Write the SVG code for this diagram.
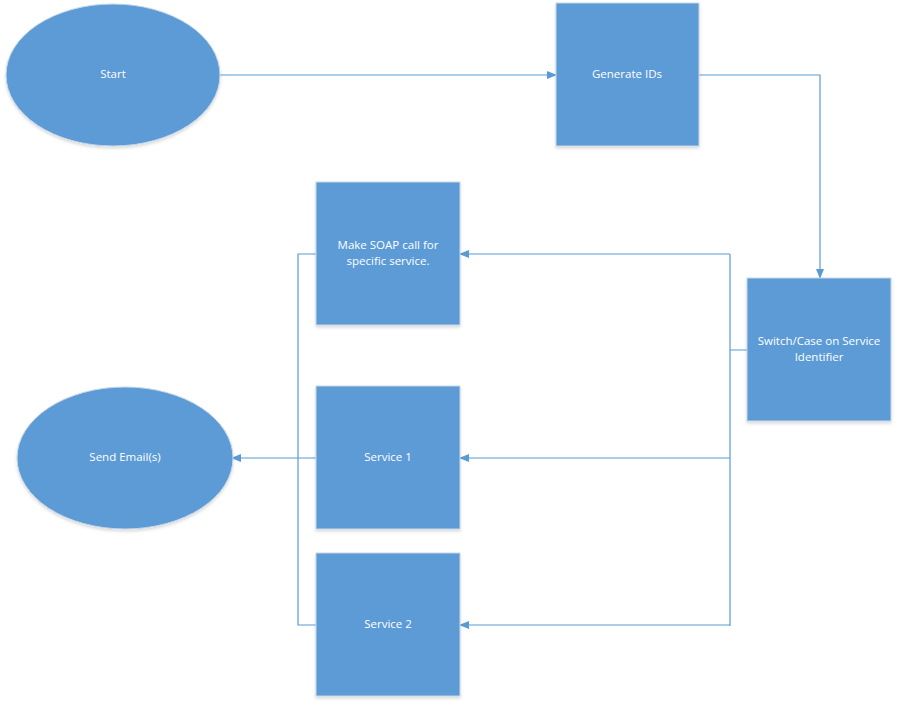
<svg xmlns="http://www.w3.org/2000/svg" width="897" height="705" viewBox="0 0 897 705">
<style>
.n{fill:#5B9BD5;stroke:#C8D7E8;stroke-width:1;filter:url(#sh)}
.t{fill:#fff;font-family:"Open Sans","Liberation Sans",sans-serif;font-size:11.5px;text-anchor:middle;dominant-baseline:middle}
.c{fill:none;stroke:#5B9BD5;stroke-width:1.2}
.a{marker-end:url(#ar)}
</style>
<defs>
<marker id="ar" markerWidth="10" markerHeight="8" refX="9" refY="4" orient="auto" markerUnits="userSpaceOnUse">
<path d="M0,0 L10,4 L0,8 Z" fill="#5B9BD5"/>
</marker>
<filter id="sh" x="-10%" y="-10%" width="120%" height="125%">
<feDropShadow dx="0" dy="2" stdDeviation="1.5" flood-color="#000" flood-opacity="0.15"/>
</filter>
</defs>
<rect width="897" height="705" fill="#fff"/>
<g id="connectors">
<path class="c a" d="M220,75 H556"/>
<path class="c a" d="M699,75 H820 V278"/>
<path class="c" d="M747,350 H730 M730,254 V626"/>
<path class="c a" d="M730,254 H460"/>
<path class="c a" d="M730,458 H460"/>
<path class="c a" d="M730,625 H460"/>
<path class="c" d="M316,254 H298 V625 H316"/>
<path class="c a" d="M316,458 H232"/>
</g>
<g id="start"><ellipse class="n" cx="113" cy="75" rx="107" ry="71"/><text class="t" x="113" y="75">Start</text></g>
<g id="generate"><rect class="n" x="556" y="3" width="143" height="143"/><text class="t" x="627" y="75">Generate IDs</text></g>
<g id="switch"><rect class="n" x="747" y="278" width="144" height="143"/><text class="t" x="819" y="342">Switch/Case on Service</text><text class="t" x="819" y="358">Identifier</text></g>
<g id="soap"><rect class="n" x="316" y="182" width="144" height="143"/><text class="t" x="388" y="246">Make SOAP call for</text><text class="t" x="388" y="262">specific service.</text></g>
<g id="service1"><rect class="n" x="316" y="386" width="144" height="143"/><text class="t" x="388" y="458">Service 1</text></g>
<g id="service2"><rect class="n" x="316" y="553" width="144" height="143"/><text class="t" x="388" y="625">Service 2</text></g>
<g id="email"><ellipse class="n" cx="125" cy="458" rx="108" ry="71"/><text class="t" x="125" y="458">Send Email(s)</text></g>
</svg>
